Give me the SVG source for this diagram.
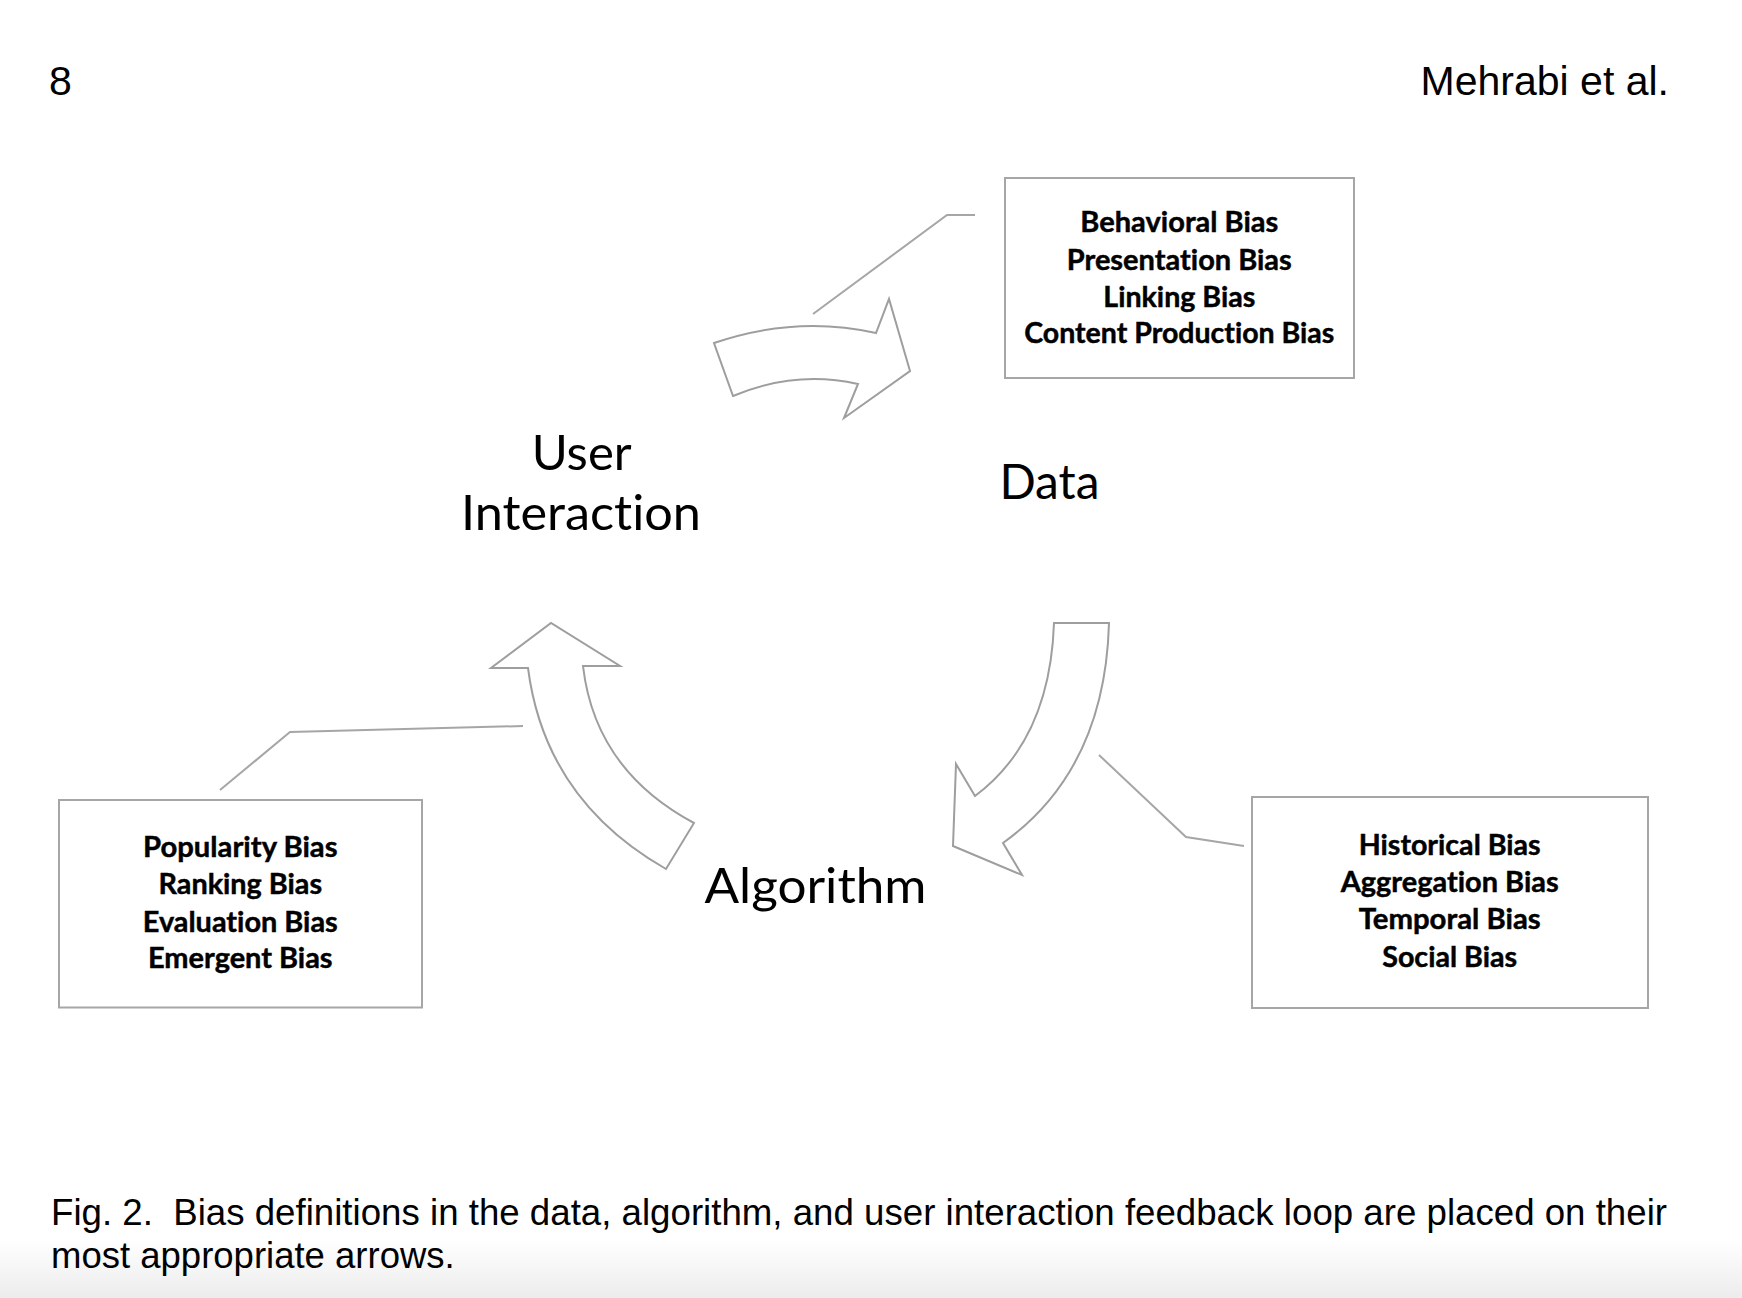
<svg xmlns="http://www.w3.org/2000/svg" width="1742" height="1298" viewBox="0 0 1742 1298">
<style>
.hdr{font-family:"Liberation Sans",Arial,sans-serif;font-size:41px;fill:#000}
.cap{font-family:"Liberation Sans",Arial,sans-serif;font-size:36.5px;fill:#000}
.big{font-family:Lato,"Open Sans",sans-serif;font-size:48px;fill:#000;text-anchor:middle;font-variant-ligatures:none}
.bias{font-family:Lato,"Open Sans",sans-serif;font-size:28.5px;font-weight:bold;fill:#000;stroke:#000;stroke-width:0.45;text-anchor:middle;font-variant-ligatures:none}
.box{fill:#fff;stroke:#a6a6a6;stroke-width:2}
.barrow{fill:#fff;stroke:#9e9e9e;stroke-width:2;stroke-linejoin:miter}
.lead{fill:none;stroke:#a6a6a6;stroke-width:2}
</style>
<defs>
<linearGradient id="shade" x1="0" y1="0" x2="0" y2="1">
<stop offset="0" stop-color="#ffffff"/>
<stop offset="1" stop-color="#ececec"/>
</linearGradient>
</defs>
<rect x="0" y="0" width="1742" height="1298" fill="#fff"/>
<rect x="0" y="1240" width="1742" height="58" fill="url(#shade)"/>

<g id="header">
<text class="hdr" x="49" y="94.5">8</text>
<text class="hdr" x="1669" y="95" text-anchor="end">Mehrabi et al.</text>
</g>

<g id="connectors">
<path id="arrow-ui-data" class="barrow" d="M714,343 Q796,315 876,333 L889,299 L910,371 L844,418 L858,384 Q795,370 733,396 Z"/>
<path id="arrow-data-alg" class="barrow" d="M1054,623 L1109,623 Q1105,770 1003,843 L1022,875 L953,846 L956,764 L975,796 Q1050,740 1054,623 Z"/>
<path id="arrow-alg-ui" class="barrow" d="M666,869 Q545,800 528,668 L491,668 L551,623 L620,666 L583,666 Q595,770 694,823 Z"/>
<polyline class="lead" points="813,314 947,215 975,215"/>
<polyline class="lead" points="1099,755 1186,837 1244,846"/>
<polyline class="lead" points="220,790 290,732 523,726"/>
</g>

<g id="user-interaction">
<text class="big" x="581.7" y="470" textLength="100" lengthAdjust="spacingAndGlyphs">User</text>
<text class="big" x="581" y="530" textLength="240" lengthAdjust="spacingAndGlyphs">Interaction</text>
</g>
<g id="data">
<text class="big" x="1049.4" y="499" textLength="100" lengthAdjust="spacingAndGlyphs">Data</text>
</g>
<g id="algorithm">
<text class="big" x="815.5" y="903.3" textLength="222" lengthAdjust="spacingAndGlyphs">Algorithm</text>
</g>

<g id="box-data-biases">
<rect class="box" x="1005" y="178" width="349" height="200"/>
<text class="bias" x="1179.3" y="232" textLength="198" lengthAdjust="spacingAndGlyphs">Behavioral Bias</text>
<text class="bias" x="1179.3" y="269.5" textLength="225" lengthAdjust="spacingAndGlyphs">Presentation Bias</text>
<text class="bias" x="1179.3" y="307" textLength="152" lengthAdjust="spacingAndGlyphs">Linking Bias</text>
<text class="bias" x="1179.3" y="343" textLength="310" lengthAdjust="spacingAndGlyphs">Content Production Bias</text>
</g>

<g id="box-user-biases">
<rect class="box" x="59" y="800" width="363" height="207.5"/>
<text class="bias" x="240.3" y="856.7" textLength="194.5" lengthAdjust="spacingAndGlyphs">Popularity Bias</text>
<text class="bias" x="240.3" y="894" textLength="163.5" lengthAdjust="spacingAndGlyphs">Ranking Bias</text>
<text class="bias" x="240.3" y="931.7" textLength="195" lengthAdjust="spacingAndGlyphs">Evaluation Bias</text>
<text class="bias" x="240.3" y="968.3" textLength="184.5" lengthAdjust="spacingAndGlyphs">Emergent Bias</text>
</g>

<g id="box-algorithm-biases">
<rect class="box" x="1252" y="797" width="396" height="211"/>
<text class="bias" x="1449.7" y="855" textLength="182" lengthAdjust="spacingAndGlyphs">Historical Bias</text>
<text class="bias" x="1449.7" y="891.7" textLength="218" lengthAdjust="spacingAndGlyphs">Aggregation Bias</text>
<text class="bias" x="1449.7" y="929.3" textLength="182" lengthAdjust="spacingAndGlyphs">Temporal Bias</text>
<text class="bias" x="1449.7" y="966.7" textLength="135" lengthAdjust="spacingAndGlyphs">Social Bias</text>
</g>

<g id="caption">
<text class="cap" x="51" y="1225" xml:space="preserve" textLength="1616" lengthAdjust="spacingAndGlyphs">Fig. 2.  Bias definitions in the data, algorithm, and user interaction feedback loop are placed on their</text>
<text class="cap" x="51" y="1268.3">most appropriate arrows.</text>
</g>
</svg>
